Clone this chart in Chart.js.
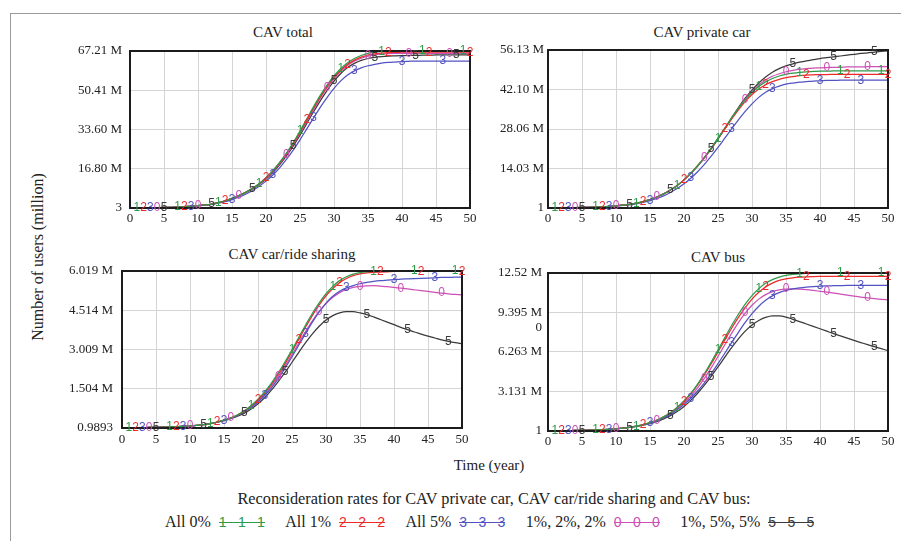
<!DOCTYPE html>
<html><head><meta charset="utf-8">
<script src="https://cdn.jsdelivr.net/npm/chart.js@4.4.1/dist/chart.umd.min.js"></script>
<style>
html,body{margin:0;padding:0;background:#fff;}
body{width:901px;height:541px;position:relative;overflow:hidden;font-family:"Liberation Serif","Times New Roman",serif;color:#222;}
.frame{position:absolute;left:10px;top:13px;width:900px;height:540px;border-left:1.5px solid #9a9a9a;border-top:1.5px solid #9a9a9a;}
canvas{position:absolute;}
.t{position:absolute;white-space:nowrap;transform:translate(-50%,-50%);font-size:15px;line-height:1;}
.yt{position:absolute;left:38px;top:257px;transform:translate(-50%,-50%) rotate(-90deg);font-size:16px;white-space:nowrap;line-height:1;}
.legrow{position:absolute;left:165px;top:522px;transform:translateY(-50%);display:flex;align-items:center;font-size:16px;white-space:nowrap;line-height:1;}
.sw{display:inline-flex;justify-content:space-between;align-items:center;width:46px;margin:0 20.5px 0 8px;font-family:"Liberation Sans",Arial,sans-serif;font-size:14px;background-repeat:no-repeat;background-position:center;background-size:100% 1px;}
</style>
</head><body>
<div class="frame"></div>
<div class="t" style="left:283px;top:32px">CAV total</div>
<div class="t" style="left:702px;top:32px">CAV private car</div>
<div class="t" style="left:292px;top:254px">CAV car/ride sharing</div>
<div class="t" style="left:718px;top:257px">CAV bus</div>
<div class="yt">Number of users (million)</div>
<div class="t" style="left:489px;top:465px">Time (year)</div>
<div class="t" style="left:494px;top:499px;font-size:16.3px">Reconsideration rates for CAV private car, CAV car/ride sharing and CAV bus:</div>
<div class="legrow" id="legrow"></div>
<canvas id="c1" width="424" height="202" style="left:60px;top:31px"></canvas>
<canvas id="c2" width="424" height="203" style="left:478px;top:30px"></canvas>
<canvas id="c3" width="424" height="202" style="left:52px;top:251px"></canvas>
<canvas id="c4" width="424" height="203" style="left:478px;top:253px"></canvas>
<script>
// ---------- data ----------
const years = [0,1,2,3,4,5,6,7,8,9,10,11,12,13,14,15,16,17,18,19,20,21,22,23,24,25,26,27,28,29,30,31,32,33,34,35,36,37,38,39,40,41,42,43,44,45,46,47,48,49,50];
const xTicks = [0,5,10,15,20,25,30,35,40,45,50];

const seriesNames = ["All 0%","All 1%","All 5%","1%, 2%, 2%","1%, 5%, 5%"];
const seriesMarks = ["1","2","3","0","5"];
const seriesColors = ["#2f9a49","#ec2a2a","#5252c2","#cc50b6","#3a3a3a"];
const markIdx = [
  [1,7,13,19,25,31,37,43,49],
  [2,8,14,20,26,32,38,44,50],
  [3,9,15,21,27,33,40,46],
  [4,10,16,23,29,35,41,47],
  [5,12,18,24,30,36,42,48]
];

// CAV total (million)
const totAll0 = [0,0.05,0.08,0.12,0.17,0.22,0.3,0.4,0.55,0.75, 1.0,1.3,1.7,2.3,3.1,4.1,5.3,6.7,8.4,10.5, 13.0,16.0,19.5,23.5,28.0,33.0,38.2,43.4,48.3,52.7, 56.5,59.7,62.2,64.0,65.3,66.2,66.7,67.0,67.1,67.15, 67.2,67.2,67.2,67.2,67.2,67.2,67.2,67.2,67.2,67.2,67.2];
const totAll1 = [0,0.05,0.08,0.12,0.17,0.22,0.3,0.4,0.55,0.75, 1.0,1.3,1.7,2.3,3.1,4.1,5.3,6.7,8.4,10.4, 12.9,15.8,19.3,23.2,27.6,32.5,37.7,42.8,47.7,52.1, 55.9,59.0,61.5,63.3,64.6,65.5,66.0,66.3,66.5,66.6, 66.7,66.7,66.7,66.7,66.7,66.7,66.7,66.7,66.7,66.7,66.7];
const totAll5 = [0,0.05,0.08,0.12,0.16,0.2,0.27,0.36,0.5,0.68, 0.9,1.2,1.55,2.05,2.7,3.6,4.6,5.9,7.4,9.3, 11.5,14.1,17.2,20.8,24.8,29.2,33.9,38.6,43.2,47.4, 51.2,54.4,56.9,58.7,60.0,60.9,61.5,62.0,62.3,62.5, 62.7,62.8,62.9,62.9,62.9,62.9,62.9,62.9,62.9,62.9,62.9];
const totMix122 = [0,0.05,0.08,0.12,0.17,0.22,0.3,0.4,0.55,0.75, 1.0,1.3,1.7,2.3,3.1,4.1,5.3,6.7,8.3,10.3, 12.7,15.6,19.0,22.9,27.2,32.0,37.1,42.2,47.1,51.5, 55.3,58.5,61.0,62.8,64.1,65.0,65.6,65.9,66.1,66.2, 66.2,66.2,66.2,66.2,66.2,66.2,66.2,66.2,66.2,66.2,66.2];
const totMix155 = [0,0.05,0.08,0.12,0.17,0.22,0.3,0.4,0.55,0.75, 1.0,1.3,1.7,2.3,3.1,4.1,5.2,6.6,8.2,10.1, 12.4,15.2,18.5,22.3,26.5,31.2,36.2,41.2,46.0,50.4, 54.3,57.6,60.1,61.9,63.2,64.0,64.5,64.8,65.0,65.1, 65.2,65.3,65.3,65.4,65.4,65.5,65.5,65.5,65.6,65.6,65.6];

// CAV private car (million)
const privAll0 = [0,0.04,0.07,0.1,0.14,0.19,0.25,0.33,0.44,0.58, 0.76,1.0,1.3,1.7,2.3,3.0,3.9,5.0,6.4,8.0, 10.0,12.3,15.0,18.0,21.3,24.8,28.4,32.0,35.4,38.5, 41.1,43.2,44.8,46.0,46.9,47.5,47.9,48.2,48.4,48.5, 48.6,48.6,48.7,48.7,48.7,48.7,48.7,48.7,48.7,48.7,48.7];
const privAll1 = [0,0.04,0.07,0.1,0.14,0.19,0.25,0.33,0.44,0.58, 0.76,1.0,1.3,1.7,2.3,3.0,3.9,5.0,6.4,8.0, 10.0,12.3,15.0,18.0,21.2,24.6,28.1,31.6,34.9,37.8, 40.3,42.3,43.8,44.9,45.7,46.3,46.7,47.0,47.2,47.3, 47.4,47.4,47.5,47.5,47.5,47.5,47.5,47.5,47.5,47.5,47.5];
const privAll5 = [0,0.04,0.07,0.1,0.13,0.18,0.23,0.3,0.4,0.52, 0.68,0.9,1.15,1.5,2.0,2.6,3.4,4.3,5.5,6.9, 8.6,10.6,12.9,15.5,18.4,21.5,24.8,28.1,31.3,34.3, 37.0,39.3,41.1,42.4,43.3,44.0,44.4,44.7,44.9,45.1, 45.2,45.3,45.3,45.4,45.4,45.4,45.4,45.4,45.4,45.4,45.4];
const privMix122 = [0,0.04,0.07,0.1,0.14,0.19,0.25,0.33,0.44,0.58, 0.76,1.0,1.3,1.7,2.3,3.0,3.9,5.0,6.4,8.0, 10.0,12.3,14.9,17.9,21.2,24.7,28.3,31.9,35.3,38.5, 41.3,43.7,45.5,46.8,47.7,48.4,48.9,49.3,49.5,49.7, 49.8,49.9,50.0,50.0,50.1,50.1,50.1,50.2,50.2,50.2,50.2];
const privMix155 = [0,0.04,0.07,0.1,0.14,0.19,0.25,0.33,0.44,0.58, 0.76,1.0,1.3,1.7,2.3,3.0,3.9,5.0,6.4,8.0, 10.0,12.3,14.9,17.8,21.0,24.5,28.2,32.0,35.7,39.0, 41.9,44.4,46.5,48.2,49.5,50.5,51.2,51.8,52.3,52.7, 53.1,53.4,53.7,54.0,54.3,54.6,54.9,55.1,55.4,55.6,55.8];

// CAV car/ride sharing (million)
const shareAll0 = [0,0.005,0.01,0.015,0.02,0.025,0.03,0.04,0.05,0.065, 0.08,0.1,0.13,0.17,0.23,0.3,0.39,0.51,0.66,0.86, 1.1,1.39,1.73,2.12,2.55,3.0,3.48,3.95,4.4,4.8, 5.15,5.43,5.65,5.8,5.9,5.96,5.99,6.01,6.02,6.02, 6.02,6.02,6.02,6.02,6.02,6.02,6.02,6.02,6.02,6.02,6.02];
const shareAll1 = [0,0.005,0.01,0.015,0.02,0.025,0.03,0.04,0.05,0.065, 0.08,0.1,0.13,0.17,0.23,0.3,0.39,0.5,0.65,0.84, 1.07,1.35,1.68,2.06,2.48,2.93,3.4,3.87,4.32,4.72, 5.07,5.35,5.57,5.73,5.84,5.91,5.95,5.97,5.98,5.99, 6.0,6.0,6.0,6.0,6.0,6.0,6.0,6.0,6.0,6.0,6.0];
const shareAll5 = [0,0.005,0.01,0.015,0.02,0.025,0.03,0.04,0.05,0.065, 0.08,0.1,0.13,0.17,0.22,0.29,0.37,0.48,0.62,0.79, 1.0,1.25,1.55,1.9,2.3,2.73,3.18,3.63,4.06,4.45, 4.79,5.05,5.24,5.37,5.46,5.53,5.58,5.62,5.65,5.67, 5.69,5.71,5.72,5.73,5.74,5.75,5.76,5.77,5.77,5.78,5.78];
const shareMix122 = [0,0.005,0.01,0.015,0.02,0.025,0.03,0.04,0.05,0.065, 0.08,0.1,0.13,0.17,0.22,0.29,0.38,0.49,0.63,0.81, 1.03,1.3,1.62,1.98,2.38,2.81,3.26,3.7,4.11,4.47, 4.77,5.01,5.19,5.31,5.39,5.43,5.45,5.46,5.44,5.42, 5.39,5.36,5.33,5.3,5.27,5.24,5.2,5.17,5.14,5.12,5.1];
const shareMix155 = [0,0.005,0.01,0.015,0.02,0.025,0.03,0.04,0.05,0.065, 0.08,0.1,0.13,0.17,0.22,0.28,0.36,0.45,0.57,0.73, 0.93,1.17,1.46,1.79,2.14,2.52,2.9,3.27,3.61,3.9, 4.14,4.31,4.41,4.46,4.46,4.41,4.35,4.26,4.16,4.06, 3.96,3.86,3.77,3.68,3.6,3.52,3.45,3.38,3.32,3.27,3.23];

// CAV bus (million)
const busAll0 = [0,0.01,0.02,0.03,0.04,0.05,0.06,0.08,0.1,0.13, 0.17,0.22,0.29,0.38,0.5,0.66,0.86,1.12,1.45,1.87, 2.38,2.99,3.72,4.55,5.46,6.42,7.4,8.36,9.25,10.05, 10.73,11.28,11.7,12.0,12.2,12.33,12.41,12.46,12.49,12.5, 12.51,12.51,12.51,12.51,12.51,12.51,12.51,12.51,12.51,12.51,12.51];
const busAll1 = [0,0.01,0.02,0.03,0.04,0.05,0.06,0.08,0.1,0.13, 0.17,0.22,0.29,0.38,0.5,0.66,0.86,1.12,1.45,1.86, 2.36,2.95,3.65,4.45,5.33,6.26,7.21,8.14,9.0,9.78, 10.45,10.99,11.41,11.72,11.93,12.06,12.14,12.19,12.22,12.24, 12.25,12.25,12.25,12.25,12.25,12.25,12.25,12.25,12.25,12.25,12.25];
const busAll5 = [0,0.01,0.02,0.03,0.04,0.05,0.06,0.08,0.1,0.13, 0.17,0.22,0.28,0.37,0.48,0.62,0.8,1.03,1.32,1.68, 2.11,2.6,3.17,3.82,4.55,5.34,6.16,7.0,7.82,8.6, 9.3,9.89,10.36,10.71,10.96,11.14,11.26,11.35,11.41,11.45, 11.48,11.5,11.51,11.52,11.53,11.53,11.54,11.54,11.54,11.54,11.54];
const busMix122 = [0,0.01,0.02,0.03,0.04,0.05,0.06,0.08,0.1,0.13, 0.17,0.22,0.29,0.38,0.49,0.64,0.83,1.07,1.38,1.76, 2.22,2.77,3.42,4.17,5.0,5.9,6.83,7.74,8.59,9.34, 9.96,10.45,10.81,11.05,11.19,11.25,11.26,11.24,11.2,11.14, 11.07,11.0,10.93,10.85,10.77,10.69,10.61,10.54,10.48,10.43,10.39];
const busMix155 = [0,0.01,0.02,0.03,0.04,0.05,0.06,0.08,0.1,0.13, 0.17,0.22,0.28,0.36,0.46,0.59,0.75,0.96,1.22,1.55, 1.95,2.43,2.99,3.63,4.33,5.08,5.85,6.6,7.3,7.91, 8.4,8.76,9.0,9.12,9.12,9.03,8.85,8.67,8.48,8.29, 8.1,7.91,7.72,7.54,7.36,7.18,7.01,6.84,6.68,6.52,6.37];

// y-axis ticks and labels
const totTicks = [0,16.80,33.60,50.41,67.21];
const totLabels = ["3","16.80 M","33.60 M","50.41 M","67.21 M"];
const privTicks = [0,14.03,28.06,42.10,56.13];
const privLabels = ["1","14.03 M","28.06 M","42.10 M","56.13 M"];
const shareTicks = [0,1.504,3.009,4.514,6.019];
const shareLabels = ["0.9893","1.504 M","3.009 M","4.514 M","6.019 M"];
const busTicks = [0,3.131,6.263,9.395,12.52];
const busLabels = ["1","3.131 M","6.263 M",["","9.395 M","0"],"12.52 M"];

// ---------- drawing ----------
const FONT_SERIF = '"Liberation Serif","Times New Roman",serif';
const FONT_SANS = '"Liberation Sans",Arial,sans-serif';

const framePlugin = {
  id:'frame',
  afterDatasetsDraw(chart){
    const a = chart.chartArea, c = chart.ctx;
    c.save();
    c.strokeStyle = '#1c1c1c'; c.lineWidth = 2;
    c.strokeRect(a.left, a.top, a.right - a.left, a.bottom - a.top);
    c.restore();
  }
};
const markerPlugin = {
  id:'markers',
  afterDraw(chart){
    const c = chart.ctx;
    c.save();
    c.font = '12px ' + FONT_SANS;
    c.textAlign = 'center'; c.textBaseline = 'middle';
    chart.data.datasets.forEach((ds, di) => {
      const meta = chart.getDatasetMeta(di);
      markIdx[di].forEach(i => {
        const p = meta.data[i];
        if (!p) return;
        c.fillStyle = ds.borderColor;
        c.fillText(seriesMarks[di], p.x, p.y);
      });
    });
    c.restore();
  }
};

function makeChart(id, seriesList, ticks, labels, yPad, xPad) {
  const datasets = seriesList.map((vals, i) => ({
    label: seriesNames[i],
    data: years.map((x, k) => ({x: x, y: vals[k]})),
    borderColor: seriesColors[i],
    backgroundColor: seriesColors[i],
    borderWidth: 1.25,
    pointRadius: 0,
    fill: false,
    cubicInterpolationMode: 'monotone'
  }));
  return new Chart(document.getElementById(id), {
    type: 'line',
    data: { datasets },
    plugins: [framePlugin, markerPlugin],
    options: {
      responsive: false, animation: false, devicePixelRatio: 1,
      layout: { padding: { left: 0, right: 14, top: 20, bottom: 0 } },
      plugins: { legend: { display: false }, tooltip: { enabled: false }, title: { display: false } },
      scales: {
        x: {
          type: 'linear', min: 0, max: 50,
          afterBuildTicks: s => { s.ticks = xTicks.map(v => ({ value: v })); },
          afterFit: s => { s.height = 25; },
          ticks: { padding: xPad, color: '#222', font: { family: FONT_SERIF, size: 13 }, maxRotation: 0, autoSkip: false },
          grid: { color: '#d5d5d5', drawTicks: false },
          border: { display: false }
        },
        y: {
          type: 'linear', min: 0, max: ticks[ticks.length - 1],
          afterBuildTicks: s => { s.ticks = ticks.map(v => ({ value: v })); },
          afterFit: s => { s.width = 70; },
          ticks: { padding: yPad, color: '#222', font: { family: FONT_SERIF, size: 13 }, autoSkip: false, callback: (v, i) => labels[i] },
          grid: { color: '#d5d5d5', drawTicks: false },
          border: { display: false }
        }
      }
    }
  });
}

makeChart('c1', [totAll0, totAll1, totAll5, totMix122, totMix155], totTicks, totLabels, 8, 3);
makeChart('c2', [privAll0, privAll1, privAll5, privMix122, privMix155], privTicks, privLabels, 4, 3);
makeChart('c3', [shareAll0, shareAll1, shareAll5, shareMix122, shareMix155], shareTicks, shareLabels, 9, 4);
makeChart('c4', [busAll0, busAll1, busAll5, busMix122, busMix155], busTicks, busLabels, 6, 3);

// legend row
const row = document.getElementById('legrow');
seriesNames.forEach((name, i) => {
  const t = document.createElement('span');
  t.textContent = name;
  row.appendChild(t);
  const sw = document.createElement('span');
  sw.className = 'sw';
  sw.style.color = seriesColors[i];
  sw.style.backgroundImage = 'linear-gradient(' + seriesColors[i] + ',' + seriesColors[i] + ')';
  for (let k = 0; k < 3; k++) {
    const d = document.createElement('span');
    d.textContent = seriesMarks[i];
    sw.appendChild(d);
  }
  if (i === seriesNames.length - 1) sw.style.marginRight = '0';
  row.appendChild(sw);
});
</script>
</body></html>
